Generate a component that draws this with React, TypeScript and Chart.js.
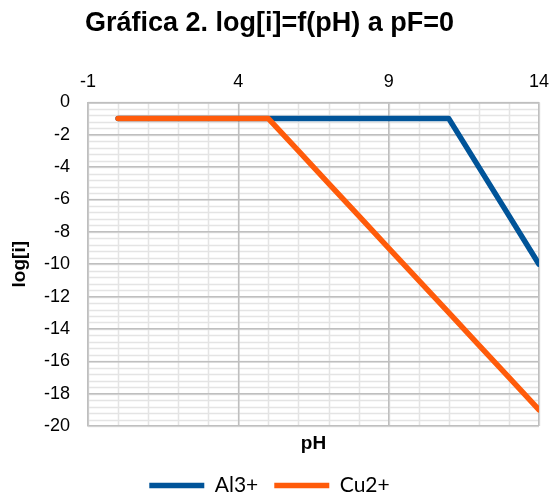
import React, { useEffect, useRef } from "react";
import { Chart, registerables } from "chart.js";

Chart.register(...registerables);

const pH = [0, 1, 2, 3, 4, 5, 6, 7, 8, 9, 10, 11, 12, 13, 14];
const al3 = [-1, -1, -1, -1, -1, -1, -1, -1, -1, -1, -1, -1, -4, -7, -10];
const cu2 = [-1, -1, -1, -1, -1, -1, -3, -5, -7, -9, -11, -13, -15, -17, -19];
const xTicks = [-1, 4, 9, 14];
const yTicks = [0, -2, -4, -6, -8, -10, -12, -14, -16, -18, -20];
const xMinorStep = 1;
const yMinorStep = 0.4;

const AL_COLOR = "#005499";
const CU_COLOR = "#FF5B0A";
const MAJOR_GRID = "#BFBFBF";
const MINOR_GRID = "#E4E4E4";
const FONT = "'Liberation Sans', Arial, sans-serif";

const minorGrid = {
  id: "minorGrid",
  beforeDraw(chart: any) {
    const { ctx, chartArea: a, scales } = chart;
    const xs = scales.x;
    const ys = scales.y;
    ctx.save();
    ctx.strokeStyle = MINOR_GRID;
    ctx.lineWidth = 1.5;
    ctx.beginPath();
    const nx = Math.round((xs.max - xs.min) / xMinorStep);
    for (let i = 0; i <= nx; i++) {
      const px = Math.round(xs.getPixelForValue(xs.min + i * xMinorStep)) + 0.5;
      ctx.moveTo(px, a.top);
      ctx.lineTo(px, a.bottom);
    }
    const ny = Math.round((ys.max - ys.min) / yMinorStep);
    for (let i = 0; i <= ny; i++) {
      const py = Math.round(ys.getPixelForValue(ys.min + i * yMinorStep)) + 0.5;
      ctx.moveTo(a.left, py);
      ctx.lineTo(a.right, py);
    }
    ctx.stroke();
    ctx.restore();
  },
};

export default function App() {
  const ref = useRef<HTMLCanvasElement | null>(null);

  useEffect(() => {
    if (!ref.current) return;
    const chart = new Chart(ref.current, {
      type: "line",
      data: {
        datasets: [
          {
            label: "Cu2+",
            data: pH.map((x, i) => ({ x, y: cu2[i] })),
            borderColor: CU_COLOR,
            backgroundColor: CU_COLOR,
            borderWidth: 5.5,
            borderCapStyle: "round",
            borderJoinStyle: "round",
            pointRadius: 0,
            tension: 0,
          },
          {
            label: "Al3+",
            data: pH.map((x, i) => ({ x, y: al3[i] })),
            borderColor: AL_COLOR,
            backgroundColor: AL_COLOR,
            borderWidth: 5.5,
            borderCapStyle: "round",
            borderJoinStyle: "round",
            pointRadius: 0,
            tension: 0,
          },
        ],
      },
      options: {
        responsive: false,
        animation: false,
        layout: { padding: { left: 0, right: 12, top: 0, bottom: -9 } },
        plugins: {
          title: {
            display: true,
            text: "Gráfica 2. log[i]=f(pH) a pF=0",
            color: "#000",
            font: { family: FONT, size: 27, weight: "bold" },
            padding: { top: 7, bottom: 7 },
          },
          legend: {
            display: true,
            position: "bottom",
            reverse: true,
            labels: {
              usePointStyle: true,
              pointStyle: "line",
              pointStyleWidth: 55,
              boxHeight: 5,
              color: "#000",
              font: { family: "Lato, 'Open Sans', sans-serif", size: 21 },
              padding: 16,
            },
          },
          tooltip: { enabled: false },
        },
        scales: {
          x: {
            type: "linear",
            position: "top",
            min: -1,
            max: 14,
            afterBuildTicks: (s: any) => {
              s.ticks = xTicks.map((v) => ({ value: v }));
            },
            ticks: {
              color: "#000",
              font: { family: FONT, size: 18 },
              padding: 10,
            },
            grid: { color: MAJOR_GRID, lineWidth: 1.5, drawTicks: false },
            border: { color: MAJOR_GRID, width: 1.5 },
            afterFit: (s: any) => {
              s.height = 56;
              s.paddingLeft = 0;
              s.paddingRight = 0;
            },
          },
          x2: {
            type: "linear",
            position: "bottom",
            min: -1,
            max: 14,
            ticks: { display: false },
            grid: { display: false, drawTicks: false },
            border: { display: false },
            title: {
              display: true,
              text: "pH",
              color: "#000",
              font: { family: FONT, size: 19, weight: "bold" },
              padding: { top: 0, bottom: 4 },
            },
            afterFit: (s: any) => {
              s.height = 33;
              s.paddingLeft = 0;
              s.paddingRight = 0;
            },
          },
          y: {
            type: "linear",
            min: -20,
            max: 0,
            afterBuildTicks: (s: any) => {
              s.ticks = yTicks.map((v) => ({ value: v }));
            },
            ticks: {
              color: "#000",
              font: { family: FONT, size: 18 },
              padding: 18,
            },
            grid: { color: MAJOR_GRID, lineWidth: 1.5, drawTicks: false },
            border: { color: MAJOR_GRID, width: 1.5 },
            title: {
              display: true,
              text: "log[i]",
              color: "#000",
              font: { family: FONT, size: 19, weight: "bold" },
              padding: { top: 8, bottom: 0 },
            },
            afterFit: (s: any) => {
              s.width = 88;
            },
          },
        },
      },
      plugins: [minorGrid],
    });
    return () => chart.destroy();
  }, []);

  return (
    <div style={{ position: "fixed", left: 0, top: 0, width: 551, height: 497, background: "#fff" }}>
      <canvas ref={ref} width={551} height={497} style={{ display: "block" }} />
    </div>
  );
}
